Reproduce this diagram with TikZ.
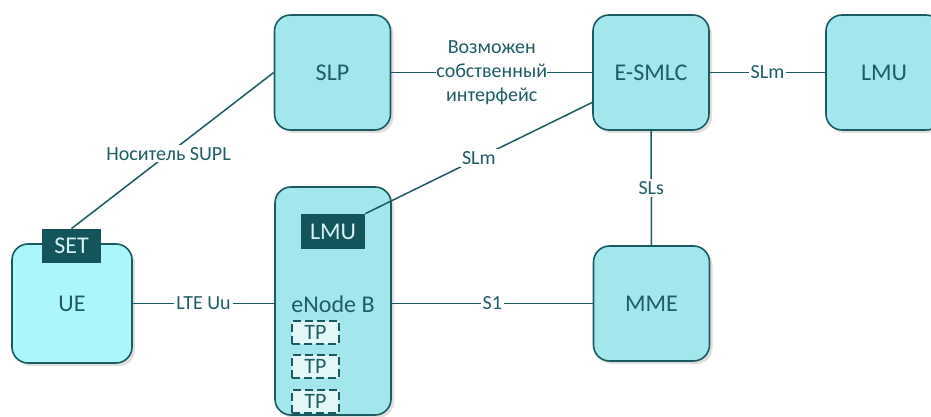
\documentclass[tikz,border=0pt]{standalone}
\usepackage{fontspec}
\setmainfont{Carlito}
\usepackage{tikz}
\usetikzlibrary{positioning,shadows}
\definecolor{BoxFill}{HTML}{A3E6EC}
\definecolor{UeFill}{HTML}{ABF6FA}
\definecolor{BoxLine}{HTML}{1C5A61}
\definecolor{TealText}{HTML}{1F5C63}
\definecolor{TagFill}{HTML}{14555B}
\definecolor{TagText}{HTML}{D4F1F3}
\definecolor{TpFill}{HTML}{E3F7F9}

\begin{document}
\begin{tikzpicture}[
	x=0.5pt, y=-0.5pt,
	box/.style={draw=BoxLine, line width=0.8pt, fill=BoxFill, rounded corners=8pt,
		minimum width=58pt, minimum height=57.5pt, text=TealText,
		font=\fontsize{12}{14}\selectfont,
		drop shadow={shadow xshift=1.5pt, shadow yshift=-1.5pt, opacity=0.25}},
	tag/.style={fill=TagFill, text=TagText, inner sep=0pt, font=\fontsize{12}{14}\selectfont},
	tpbox/.style={draw=BoxLine, dash pattern=on 4pt off 2pt, line width=0.6pt, fill=TpFill,
		minimum width=23.5pt, minimum height=11.5pt, inner sep=0pt, text=TealText,
		font=\fontsize{11}{12}\selectfont},
	link/.style={draw=BoxLine, line width=0.75pt},
	lbl/.style={fill=white, text=TealText, inner sep=1pt, font=\fontsize{10}{12}\selectfont}
]
\useasboundingbox (0,0) rectangle (931,417);

% top row
\node[box] (slp) at (332.5,72.5) {SLP};
\node[box] (esmlc) at (651,72.5) {E-SMLC};
\node[box] (lmu) at (884,72.5) {LMU};

% bottom row
\node[box, fill=UeFill, minimum width=60pt, minimum height=59.5pt] (ue) at (72,303.5) {UE};
\node[tag, minimum width=29.5pt, minimum height=17pt] (set) at (71.5,246) {SET};
\node[box, minimum height=114pt] (enb) at (333,301) {};
\node[text=TealText, font=\fontsize{12}{14}\selectfont] (enbtext) at (333,304) {eNode B};
\node[tag, minimum width=32pt, minimum height=17.5pt] (lmuin) at (333,231.5) {LMU};
\node[tpbox] (tp1) at (315.5,332.5) {TP};
\node[tpbox] (tp2) at (315.5,366.5) {TP};
\node[tpbox] (tp3) at (315.5,401.5) {TP};
\node[box] (mme) at (651.5,303.5) {MME};

% links
\draw[link] (set.north) -- node[lbl, pos=0.48] {Носитель SUPL} (slp.west);
\draw[link] (slp) -- node[lbl, align=center, inner xsep=0pt] {Возможен\\собственный\\интерфейс} (esmlc);
\draw[link] (esmlc) -- node[lbl] {SLm} (lmu);
\draw[link] (lmuin.north east) -- node[lbl] {SLm} (esmlc.207);
\draw[link] (esmlc) -- node[lbl] {SLs} (mme);
\draw[link] (ue.east) -- node[lbl] {LTE Uu} (enb.west |- ue.east);
\draw[link] (enb.east |- mme.west) -- node[lbl] {S1} (mme.west);
\end{tikzpicture}
\end{document}
